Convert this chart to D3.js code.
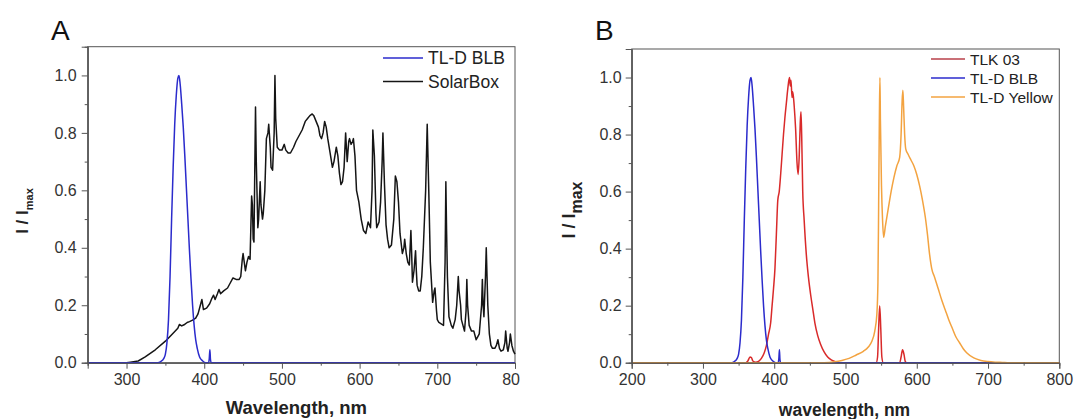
<!DOCTYPE html>
<html>
<head>
<meta charset="utf-8">
<script src="https://cdn.jsdelivr.net/npm/d3@7"></script>
<style>
  body { margin: 0; background: #fff; }
  svg { display: block; font-family: Arial, "Liberation Sans", sans-serif; }
</style>
</head>
<body>
<svg width="1075" height="419"></svg>
<script>
// spectra as [wavelength nm, I/Imax]
const blbSpectrum = [
  [250,0],[340,0],[344,0.004],[348,0.015],[350,0.03],[352,0.07],[354,0.15],[356,0.3],[358,0.5],
  [360,0.68],[362,0.83],[364,0.93],[366,0.99],[367.5,1.0],[369,0.97],[371,0.9],[373,0.82],
  [375,0.72],[377,0.61],[379,0.5],[381,0.39],[383,0.29],[385,0.2],[387,0.13],[389,0.08],
  [391,0.05],[394,0.02],[398,0.006],[402,0],[405.5,0],[406.5,0.015],[407.3,0.045],[408,0.012],
  [409,0],[800,0]
]

const solarBoxSpectrum = [
  [250,0],[300,0],[305,0.002],[315,0.006],[324,0.02],[337,0.045],[350,0.075],[359,0.1],[366,0.12],
  [368,0.133],[371,0.128],[374,0.132],[378,0.14],[381,0.143],[385,0.148],[389,0.155],[392,0.17],
  [395,0.2],[397,0.22],[399,0.185],[403,0.19],[407,0.205],[410,0.225],[412,0.235],[414,0.22],
  [417,0.24],[419,0.255],[421,0.24],[425,0.25],[430,0.26],[434,0.28],[437,0.295],[441,0.29],
  [445,0.29],[447,0.3],[449,0.36],[450,0.38],[452,0.34],[453,0.32],[455,0.35],[457,0.37],
  [459,0.36],[461,0.58],[462,0.55],[463,0.43],[464,0.42],[466,0.89],[467,0.7],[469,0.47],
  [470,0.5],[472,0.63],[473,0.55],[475,0.5],[476,0.52],[478,0.6],[480,0.78],[482,0.8],[483,0.83],
  [485,0.75],[486,0.68],[488,0.67],[490,0.8],[491,1.0],[492,0.85],[494,0.75],[497,0.74],
  [500,0.74],[503,0.76],[505,0.74],[508,0.73],[511,0.73],[515,0.75],[518,0.77],[522,0.79],
  [526,0.81],[530,0.84],[533,0.85],[536,0.86],[539,0.866],[541,0.86],[544,0.84],[547,0.82],
  [549,0.79],[551,0.78],[553,0.8],[555,0.84],[557,0.82],[559,0.78],[562,0.73],[565,0.68],
  [567,0.7],[570,0.75],[572,0.72],[574,0.66],[576,0.62],[578,0.63],[580,0.68],[582,0.8],
  [583,0.75],[584,0.7],[586,0.77],[587,0.78],[589,0.76],[591,0.77],[592,0.78],[594,0.72],
  [596,0.6],[599,0.56],[602,0.5],[605,0.46],[608,0.45],[611,0.49],[614,0.47],[616,0.6],
  [617,0.81],[619,0.72],[621,0.52],[622,0.47],[625,0.49],[627,0.56],[629,0.7],[630,0.8],
  [632,0.62],[634,0.48],[636,0.43],[638,0.4],[641,0.41],[644,0.5],[646,0.65],[648,0.63],
  [650,0.56],[652,0.45],[655,0.38],[657,0.4],[658,0.43],[660,0.38],[662,0.35],[664,0.34],
  [666,0.46],[667,0.38],[668,0.28],[670,0.32],[672,0.39],[673,0.32],[674,0.27],[676,0.25],
  [678,0.25],[680,0.3],[682,0.4],[685,0.6],[687,0.83],[689,0.6],[691,0.35],[694,0.21],
  [696,0.25],[697,0.26],[699,0.18],[700,0.15],[702,0.14],[705,0.135],[708,0.13],[710,0.35],
  [711,0.63],[712,0.45],[713,0.3],[715,0.16],[718,0.13],[720,0.12],[723,0.15],[725,0.2],
  [727,0.3],[728,0.25],[730,0.2],[731,0.15],[733,0.13],[735,0.11],[737,0.18],[738,0.29],
  [739,0.2],[741,0.13],[744,0.11],[747,0.11],[750,0.08],[752,0.09],[754,0.1],[757,0.2],
  [758,0.29],[759,0.2],[760,0.16],[762,0.3],[763,0.4],[764,0.3],[765,0.2],[767,0.1],[769,0.06],
  [771,0.05],[774,0.05],[776,0.06],[778,0.08],[780,0.05],[782,0.04],[785,0.045],[787,0.07],
  [788,0.11],[790,0.05],[791,0.04],[793,0.07],[794,0.1],[796,0.06],[798,0.04],[800,0.03]
]

const tlk03Spectrum = [
  [200,0],[360,0],[363,0.006],[366,0.02],[368,0.018],[370,0.006],[374,0.002],[378,0.005],
  [382,0.015],[386,0.035],[389,0.06],[392,0.1],[395,0.14],[397,0.2],[399,0.26],[401,0.33],
  [403,0.45],[405,0.57],[407,0.6],[409,0.66],[411,0.73],[413,0.8],[415,0.86],[417,0.91],
  [419,0.96],[420.5,0.99],[421.5,1.0],[422.5,0.97],[423.5,0.99],[425,0.93],[426,0.95],[428,0.9],
  [430,0.82],[432,0.7],[433.5,0.66],[435,0.72],[436.5,0.84],[437.5,0.88],[438.5,0.8],[440,0.6],
  [442,0.5],[445,0.38],[448,0.3],[451,0.24],[454,0.19],[457,0.14],[461,0.095],[465,0.065],
  [470,0.038],[475,0.02],[480,0.01],[485,0.004],[490,0],[543,0],[545,0.02],[546.5,0.12],
  [548,0.2],[549.5,0.12],[551,0.02],[553,0],[576,0],[578,0.02],[580,0.045],[582,0.03],
  [584,0.003],[586,0],[800,0]
]

const yellowSpectrum = [
  [200,0],[470,0],[485,0.003],[495,0.008],[505,0.015],[515,0.027],[525,0.04],[532,0.055],
  [537,0.075],[541,0.11],[544,0.17],[545.5,0.28],[546.5,0.55],[547.5,0.85],[548.3,1.0],
  [549,0.85],[550.5,0.62],[552,0.5],[553.5,0.44],[556,0.48],[560,0.54],[564,0.6],[568,0.65],
  [572,0.69],[576,0.72],[578,0.8],[579.5,0.92],[580.5,0.955],[581.5,0.9],[583,0.8],[584.5,0.75],
  [588,0.73],[592,0.71],[596,0.69],[600,0.66],[604,0.62],[608,0.57],[612,0.51],[615,0.45],
  [618,0.38],[621,0.33],[625,0.3],[630,0.26],[635,0.22],[640,0.185],[645,0.15],[650,0.12],
  [655,0.09],[660,0.07],[665,0.05],[670,0.035],[680,0.017],[690,0.008],[700,0.004],[710,0.002],
  [720,0.001],[730,0],[800,0]
]

const xTicksA = [300, 400, 500, 600, 700, 800]
const xMinorA = [250, 350, 450, 550, 650, 750]
const xTicksB = [200, 300, 400, 500, 600, 700, 800]
const xMinorB = [250, 350, 450, 550, 650, 750]
const yTicks = [0, 0.2, 0.4, 0.6, 0.8, 1.0]
const yMinor = [0.1, 0.3, 0.5, 0.7, 0.9]

const BLUE = "#2b2bcc", BLACK = "#151515", RED = "#d92a2a", ORANGE = "#f3a340"

var svg = d3.select("svg")

svg.append("defs").append("clipPath").attr("id", "clipA")
  .append("rect").attr("x", 0).attr("y", 0).attr("width", 520).attr("height", 419)

const drawPanel = (p) => {
  var x = d3.scaleLinear().domain(p.xDomain).range([p.left, p.right]),
      y = d3.scaleLinear().domain([0, 1.1]).range([p.bottom, p.top])

  var g = svg.append("g")

  // frame
  g.append("rect")
    .attr("x", p.left).attr("y", p.top)
    .attr("width", p.right - p.left).attr("height", p.bottom - p.top)
    .attr("fill", "none").attr("stroke", "#555").attr("stroke-width", 1)

  var line = d3.line().x(d => x(d[0])).y(d => y(d[1]))

  // drawn in drawOrder, legend keeps the series order
  var drawList = p.drawOrder ? p.drawOrder.map(i => p.series[i]) : p.series
  drawList.forEach(s => {
    g.append("path")
      .datum(s.data)
      .attr("fill", "none")
      .attr("stroke", s.color)
      .attr("stroke-width", 1.5)
      .attr("stroke-linejoin", "round")
      .attr("d", line.curve(s.smooth ? d3.curveMonotoneX : d3.curveLinear))
  })

  // x axis
  var xAx = g.append("g")
      .attr("transform", "translate(0," + p.bottom + ")")
      .call(d3.axisBottom(x).tickValues(p.xTicks).tickSize(6).tickPadding(5).tickFormat(d3.format("d")))
  if (p.clip) xAx.attr("clip-path", "url(#" + p.clip + ")")
  g.append("g")
      .attr("transform", "translate(0," + p.bottom + ")")
      .call(d3.axisBottom(x).tickValues(p.xMinor).tickSize(3).tickFormat(""))

  // y axis
  g.append("g")
      .attr("transform", "translate(" + p.left + ",0)")
      .call(d3.axisLeft(y).tickValues(yTicks).tickSize(6).tickPadding(p.yPad).tickFormat(d3.format(".1f")))
  g.append("g")
      .attr("transform", "translate(" + p.left + ",0)")
      .call(d3.axisLeft(y).tickValues(yMinor).tickSize(3).tickFormat(""))

  g.selectAll(".domain").attr("stroke", "#555")
  g.selectAll(".tick line").attr("stroke", "#555")
  g.selectAll(".tick text").attr("fill", "#333").attr("font-size", p.tickFont)

  // panel letter
  g.append("text")
    .attr("x", p.letterX).attr("y", 40)
    .attr("font-size", 28).attr("fill", "#111")
    .text(p.letter)

  // axis titles
  g.append("text")
    .attr("x", (p.left + p.right) / 2 + p.xTitleShift).attr("y", p.xTitleY)
    .attr("text-anchor", "middle").attr("font-weight", "bold")
    .attr("font-size", p.xTitleFont).attr("fill", "#222")
    .text(p.xTitle)

  var yt = g.append("text")
    .attr("transform", "translate(" + p.yTitleX + "," + p.yTitleY + ") rotate(-90)")
    .attr("text-anchor", "middle").attr("font-weight", "bold").attr("fill", "#222")
    .attr("font-size", p.yTitleFont)
  yt.append("tspan").text("I / I")
  yt.append("tspan").attr("font-size", p.yTitleSub).attr("dy", p.yTitleSub * 0.45).text("max")

  // legend
  var lg = g.append("g")
    .selectAll("g")
    .data(p.series)
    .enter().append("g")
      .attr("transform", (d, i) => "translate(0," + (p.legendY + i * p.legendStep) + ")")

  lg.append("line")
    .attr("x1", p.legendX).attr("x2", p.legendX + p.legendLen)
    .attr("stroke", d => d.legendColor || d.color).attr("stroke-width", 1.6)

  lg.append("text")
    .attr("x", p.legendX + p.legendLen + 5)
    .attr("dy", "0.36em")
    .attr("font-size", p.legendFont).attr("fill", "#222")
    .text(d => d.label)
}

drawPanel({
  letter: "A", letterX: 51,
  xDomain: [250, 800], left: 87.7, right: 515, top: 46.7, bottom: 362.7,
  xTicks: xTicksA, xMinor: xMinorA, clip: "clipA",
  tickFont: 16, yPad: 5,
  xTitle: "Wavelength, nm", xTitleFont: 18.5, xTitleY: 414, xTitleShift: -5,
  yTitleX: 28, yTitleY: 211, yTitleFont: 17, yTitleSub: 11,
  legendX: 383, legendY: 58, legendStep: 23.5, legendLen: 40, legendFont: 17.5,
  series: [
    { label: "TL-D BLB", data: blbSpectrum, color: BLUE, smooth: true },
    { label: "SolarBox", data: solarBoxSpectrum, color: BLACK, smooth: false }
  ],
  drawOrder: [1, 0]
})

drawPanel({
  letter: "B", letterX: 595,
  xDomain: [200, 800], left: 631.7, right: 1059.3, top: 49, bottom: 362.7,
  xTicks: xTicksB, xMinor: xMinorB,
  tickFont: 16, yPad: 4,
  xTitle: "wavelength, nm", xTitleFont: 17.5, xTitleY: 416, xTitleShift: -1,
  yTitleX: 575, yTitleY: 210, yTitleFont: 18, yTitleSub: 16,
  legendX: 931, legendY: 59, legendStep: 19, legendLen: 34, legendFont: 15.5,
  series: [
    { label: "TLK 03", data: tlk03Spectrum, color: RED, legendColor: "#b8404a", smooth: true },
    { label: "TL-D BLB", data: blbSpectrum, color: BLUE, smooth: true },
    { label: "TL-D Yellow", data: yellowSpectrum, color: ORANGE, smooth: true }
  ]
})
</script>
</body>
</html>
